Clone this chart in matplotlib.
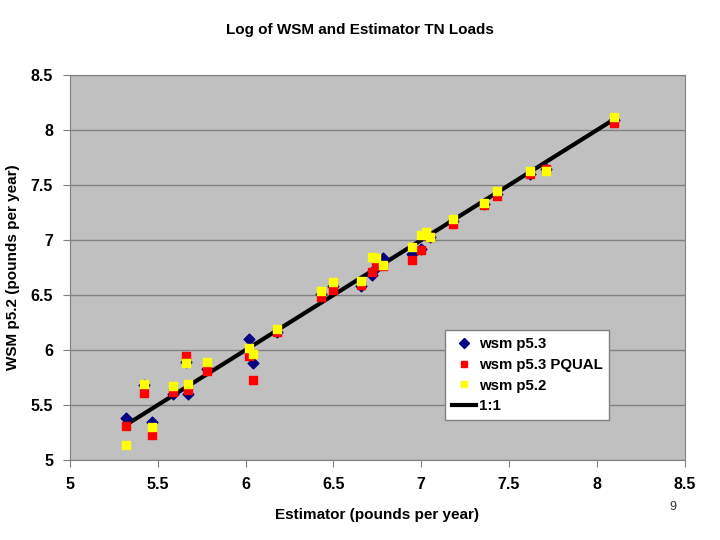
import matplotlib
matplotlib.use("Agg")
import matplotlib.pyplot as plt
from matplotlib.lines import Line2D

# log10 loads
estimator = [5.32, 5.42, 5.47, 5.59, 5.66, 5.67, 5.78, 6.02, 6.04, 6.18,
             6.43, 6.50, 6.66, 6.72, 6.74, 6.78, 6.95, 7.00, 7.03, 7.05,
             7.18, 7.36, 7.43, 7.62, 7.71, 8.10]
wsm_p53 = [5.38, 5.68, 5.35, 5.60, 5.89, 5.60, 5.83, 6.10, 5.88, 6.16,
           6.51, 6.58, 6.58, 6.68, 6.75, 6.84, 6.87, 6.92, 7.05, 7.03,
           7.17, 7.33, 7.42, 7.60, 7.65, 8.09]
wsm_p53_pqual = [5.31, 5.61, 5.23, 5.62, 5.95, 5.64, 5.81, 5.95, 5.73, 6.16,
                 6.48, 6.55, 6.59, 6.71, 6.76, 6.76, 6.82, 6.91, 7.05, 7.03,
                 7.15, 7.32, 7.40, 7.60, 7.65, 8.06]
wsm_p52 = [5.14, 5.69, 5.30, 5.67, 5.88, 5.69, 5.89, 6.02, 5.96, 6.19,
           6.54, 6.62, 6.63, 6.85, 6.84, 6.77, 6.94, 7.05, 7.07, 7.03,
           7.19, 7.34, 7.45, 7.63, 7.63, 8.12]
one_to_one = [5.32, 8.10]

plt.rcParams["font.family"] = ["Liberation Sans", "DejaVu Sans"]
plt.rcParams["font.weight"] = "bold"

fig = plt.figure(figsize=(7.2, 5.4), dpi=100)
ax = fig.add_axes([0.097, 0.148, 0.854, 0.713])
ax.set_facecolor("#C0C0C0")

ax.scatter(estimator, wsm_p53, marker="D", s=30, color="#000080", zorder=3)
ax.scatter(estimator, wsm_p53_pqual, marker="s", s=28, color="#FF0000", zorder=4)
ax.scatter(estimator, wsm_p52, marker="s", s=28, color="#FFFF00", zorder=5)
ax.plot(one_to_one, one_to_one, color="black", lw=3, zorder=2)

ax.set_xlim(5, 8.5)
ax.set_ylim(5, 8.5)
ticks = [5, 5.5, 6, 6.5, 7, 7.5, 8, 8.5]
ax.set_xticks(ticks)
ax.set_yticks(ticks)
ax.set_xticklabels(["5", "5.5", "6", "6.5", "7", "7.5", "8", "8.5"])
ax.set_yticklabels(["5", "5.5", "6", "6.5", "7", "7.5", "8", "8.5"])
ax.tick_params(labelsize=11.5, colors="#808080", labelcolor="black", length=5, pad=7)
ax.grid(axis="y", color="#808080", lw=1)
ax.set_axisbelow(True)
for s in ax.spines.values():
    s.set_color("#808080")

ax.set_xlabel("Estimator (pounds per year)", fontsize=11, fontweight="bold", labelpad=12)
ax.set_ylabel("WSM p5.2 (pounds per year)", fontsize=11, fontweight="bold", labelpad=8)
fig.text(0.5, 0.945, "Log of WSM and Estimator TN Loads", ha="center", va="center",
         fontsize=11, fontweight="bold")

handles = [
    Line2D([], [], ls="", marker="D", ms=5, color="#000080"),
    Line2D([], [], ls="", marker="s", ms=5, color="#FF0000"),
    Line2D([], [], ls="", marker="s", ms=5, color="#FFFF00"),
    Line2D([], [], color="black", lw=3),
]
leg = ax.legend(handles, ["wsm p5.3", "wsm p5.3 PQUAL", "wsm p5.2", "1:1"],
                loc="lower left", bbox_to_anchor=(0.61, 0.104), borderaxespad=0,
                fancybox=False, framealpha=1, edgecolor="#808080",
                prop={"size": 10.8, "weight": "bold"}, handlelength=1.6,
                handletextpad=0.2, labelspacing=0.45, borderpad=0.45)
leg.get_frame().set_linewidth(1)

fig.text(0.935, 0.055, "9", fontsize=9, ha="center", fontweight="normal", color="#333333")

fig.savefig("out.png", dpi=100)
